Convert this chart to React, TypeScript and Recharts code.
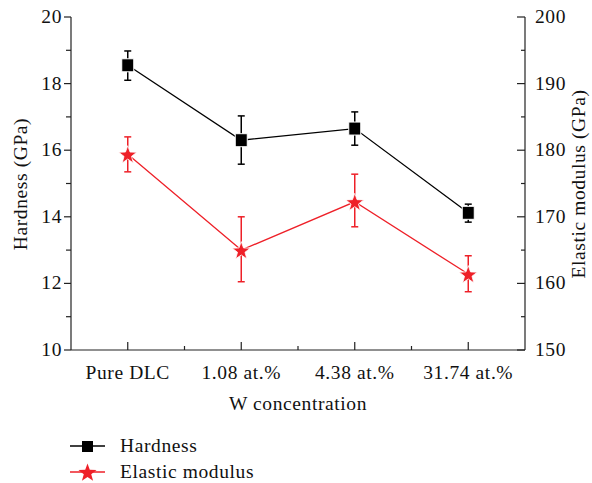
import React from 'react';
import { ComposedChart, Line, XAxis, YAxis, ErrorBar } from 'recharts';

const categories = ['Pure DLC', '1.08 at.%', '4.38 at.%', '31.74 at.%'];
const hardness = [18.55, 16.3, 16.65, 14.12];
const hardnessErrMinus = [0.45, 0.72, 0.5, 0.28];
const hardnessErrPlus = [0.43, 0.73, 0.5, 0.26];
const modulus = [179.4, 165.0, 172.25, 161.4];
const modulusErrMinus = [2.65, 4.75, 3.75, 2.65];
const modulusErrPlus = [2.6, 5.0, 4.15, 2.75];
const hardnessTicks = [10, 11, 12, 13, 14, 15, 16, 17, 18, 19, 20];
const modulusTicks = [150, 155, 160, 165, 170, 175, 180, 185, 190, 195, 200];
const xTicks = [0, 0.5, 1, 1.5, 2, 2.5, 3];
const seriesNames = ['Hardness', 'Elastic modulus'];

const data = categories.map((c, i) => ({
  x: i,
  name: c,
  hardness: hardness[i],
  hErr: [hardnessErrMinus[i], hardnessErrPlus[i]],
  modulus: modulus[i],
  mErr: [modulusErrMinus[i], modulusErrPlus[i]],
}));

const FONT = "'Liberation Serif', serif";
const FS = 19.5;
const LS = 0.6;
const AXIS = '#222';
const RED = '#ee2028';
const TXT: React.CSSProperties = { fontFamily: FONT, fontSize: FS, letterSpacing: LS, fill: '#111' };

const BottomTick = (props: any) => {
  const { x, y, payload } = props;
  const v = payload.value;
  const major = Number.isInteger(v);
  return (
    <g>
      <line x1={x} y1={y} x2={x} y2={y - (major ? 8 : 4)} stroke={AXIS} strokeWidth={1.2} />
      {major && (
        <text x={x} y={y + 29} textAnchor="middle" style={TXT}>
          {categories[v]}
        </text>
      )}
    </g>
  );
};

const TopTick = (props: any) => {
  const { x, y, payload } = props;
  const major = Number.isInteger(payload.value);
  return <line x1={x} y1={y} x2={x} y2={y + (major ? 2 : 1.5)} stroke="#999" strokeWidth={1} />;
};

const LeftTick = (props: any) => {
  const { x, y, payload } = props;
  const v = payload.value;
  const major = v % 2 === 0;
  return (
    <g>
      <line x1={x} y1={y} x2={x - (major ? 7 : 5)} y2={y} stroke={AXIS} strokeWidth={1.2} />
      {major && (
        <text x={x - 9} y={y + 6} textAnchor="end" style={TXT}>
          {v}
        </text>
      )}
    </g>
  );
};

const RightTick = (props: any) => {
  const { x, y, payload } = props;
  const v = payload.value;
  const major = v % 10 === 0;
  return (
    <g>
      <line x1={x} y1={y} x2={x - (major ? 8 : 4)} y2={y} stroke={AXIS} strokeWidth={1.2} />
      {major && (
        <text x={x + 10} y={y + 6} textAnchor="start" style={TXT}>
          {v}
        </text>
      )}
    </g>
  );
};

const starPoints = (cx: number, cy: number, ro: number, ri: number) => {
  const pts: string[] = [];
  for (let k = 0; k < 10; k++) {
    const r = k % 2 === 0 ? ro : ri;
    const a = -Math.PI / 2 + (k * Math.PI) / 5;
    pts.push(`${cx + r * Math.cos(a)},${cy + r * Math.sin(a)}`);
  }
  return pts.join(' ');
};

const SquareDot = (props: any) => {
  const { cx, cy, index } = props;
  if (cx == null || cy == null) return null;
  return <rect key={`sq${index}`} x={cx - 6} y={cy - 6.5} width={12} height={13} fill="#000" stroke="#fff" strokeWidth={1} />;
};

const StarDot = (props: any) => {
  const { cx, cy, index } = props;
  if (cx == null || cy == null) return null;
  return <polygon key={`st${index}`} points={starPoints(cx, cy + 1, 9.5, 3.9)} fill={RED} stroke="#fff" strokeWidth={0.8} />;
};

export default function App() {
  return (
    <div style={{ position: 'absolute', left: 0, top: 0, width: 592, height: 483, background: '#fff' }}>
      <ComposedChart
        width={592}
        height={483}
        data={data}
        margin={{ top: 17, right: 0, bottom: 63, left: 0 }}
      >
        <XAxis
          xAxisId="top"
          orientation="top"
          type="number"
          dataKey="x"
          domain={[-0.5, 3.5]}
          ticks={xTicks}
          tick={<TopTick />}
          tickLine={false}
          tickSize={0}
          tickMargin={0}
          height={0}
          stroke={AXIS}
          strokeWidth={1.2}
          allowDataOverflow
        />
        <XAxis
          xAxisId="bottom"
          type="number"
          dataKey="x"
          domain={[-0.5, 3.5]}
          ticks={xTicks}
          tick={<BottomTick />}
          tickLine={false}
          tickSize={0}
          tickMargin={0}
          height={70}
          stroke={AXIS}
          strokeWidth={1.2}
          interval={0}
          label={{
            content: () => (
              <text x={298} y={410} textAnchor="middle" style={TXT}>
                W concentration
              </text>
            ),
          }}
        />
        <YAxis
          yAxisId="left"
          orientation="left"
          domain={[10, 20]}
          ticks={hardnessTicks}
          tick={<LeftTick />}
          tickLine={false}
          tickSize={0}
          tickMargin={0}
          width={71}
          stroke={AXIS}
          strokeWidth={1.2}
          interval={0}
          label={{
            content: () => (
              <text x={27} y={184} transform="rotate(-90 27 184)" textAnchor="middle" style={TXT}>
                Hardness (GPa)
              </text>
            ),
          }}
        />
        <YAxis
          yAxisId="right"
          orientation="right"
          domain={[150, 200]}
          ticks={modulusTicks}
          tick={<RightTick />}
          tickLine={false}
          tickSize={0}
          tickMargin={0}
          width={67}
          stroke={AXIS}
          strokeWidth={1.2}
          interval={0}
          label={{
            content: () => (
              <text x={585} y={184} transform="rotate(-90 585 184)" textAnchor="middle" style={TXT}>
                Elastic modulus (GPa)
              </text>
            ),
          }}
        />
        <Line
          xAxisId="bottom"
          yAxisId="right"
          type="linear"
          dataKey="modulus"
          stroke={RED}
          strokeWidth={1.3}
          dot={<StarDot />}
          activeDot={false}
          isAnimationActive={false}
        >
          <ErrorBar dataKey="mErr" direction="y" width={3.5} stroke={RED} strokeWidth={1.5} isAnimationActive={false} />
        </Line>
        <Line
          xAxisId="bottom"
          yAxisId="left"
          type="linear"
          dataKey="hardness"
          stroke="#000"
          strokeWidth={1.3}
          dot={<SquareDot />}
          activeDot={false}
          isAnimationActive={false}
        >
          <ErrorBar dataKey="hErr" direction="y" width={3.5} stroke="#000" strokeWidth={1.5} isAnimationActive={false} />
        </Line>
      </ComposedChart>
      <svg width={592} height={483} style={{ position: 'absolute', left: 0, top: 0, pointerEvents: 'none' }}>
        <line x1={70} y1={446} x2={105} y2={446} stroke="#000" strokeWidth={1.3} />
        <rect x={82} y={441} width={11} height={11} fill="#000" />
        <text x={120} y={452} style={TXT}>{seriesNames[0]}</text>
        <line x1={70} y1={472} x2={105} y2={472} stroke={RED} strokeWidth={1.3} />
        <polygon points={starPoints(87.5, 473, 9.5, 3.9)} fill={RED} />
        <text x={120} y={478} style={TXT}>{seriesNames[1]}</text>
      </svg>
    </div>
  );
}
